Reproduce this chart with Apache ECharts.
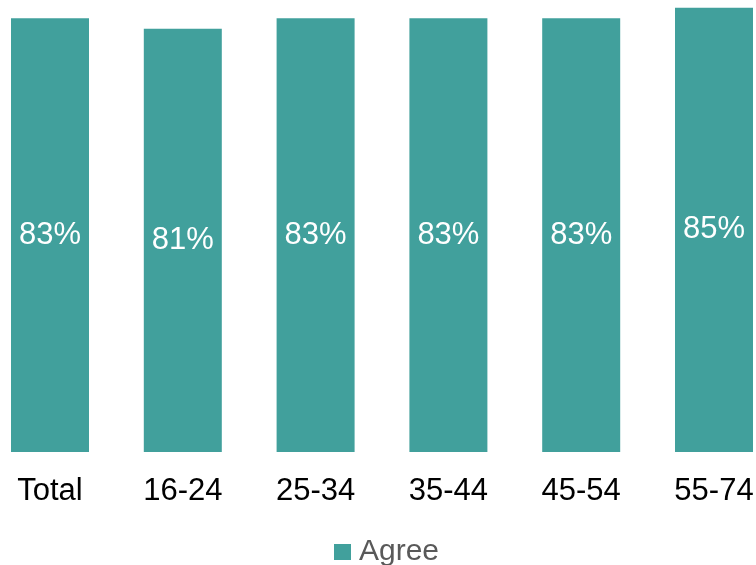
<!DOCTYPE html>
<html>
<head>
<meta charset="utf-8">
<script src="https://cdn.jsdelivr.net/npm/echarts@6/dist/echarts.min.js"></script>
<style>
html,body{margin:0;padding:0;background:#fff;}
#chart{width:756px;height:565px;}
</style>
</head>
<body>
<div id="chart"></div>
<script>
const categories = ["Total", "16-24", "25-34", "35-44", "45-54", "55-74"];
const agreeValues = [83, 81, 83, 83, 83, 85];
const seriesName = "Agree";

const chart = echarts.init(document.getElementById('chart'), null, {renderer: 'canvas'});
chart.setOption({
  animation: false,
  backgroundColor: '#ffffff',
  textStyle: {fontFamily: '"Liberation Sans", Arial, sans-serif'},
  grid: {left: -16.4, width: 796.8, top: 0, height: 452, containLabel: false, outerBoundsMode: 'none'},
  legend: {
    data: [seriesName],
    left: 329,
    top: 532,
    icon: 'rect',
    itemWidth: 17,
    itemHeight: 16,
    itemGap: 10,
    textStyle: {fontSize: 30, color: '#595959', fontFamily: '"Liberation Sans", Arial, sans-serif', padding: [0, 0, 0, 3]}
  },
  xAxis: {
    type: 'category',
    data: categories,
    axisLine: {show: false},
    axisTick: {show: false},
    axisLabel: {fontSize: 31, color: '#000000', margin: 24, fontFamily: '"Liberation Sans", Arial, sans-serif'}
  },
  yAxis: {
    type: 'value',
    min: 0,
    max: 86.5,
    show: false,
    splitLine: {show: false}
  },
  series: [{
    name: seriesName,
    type: 'bar',
    data: agreeValues,
    barWidth: 78,
    itemStyle: {color: '#41A09C'},
    label: {
      show: true,
      position: 'inside',
      formatter: '{c}%',
      fontSize: 31,
      color: '#ffffff',
      fontFamily: '"Liberation Sans", Arial, sans-serif'
    }
  }]
});
</script>
</body>
</html>
